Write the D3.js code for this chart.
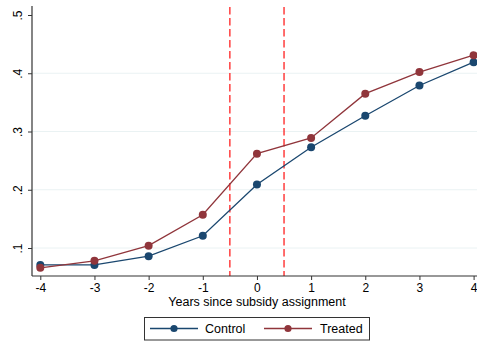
<!DOCTYPE html>
<html><head><meta charset="utf-8">
<script src="https://cdn.jsdelivr.net/npm/d3@7"></script>
<style>body{margin:0;background:#fff}svg{display:block}text{font-family:Arial,"Liberation Sans",sans-serif}</style>
</head><body><svg id="c" width="477" height="343"></svg>
<script>
const years = [-4,-3,-2,-1,0,1,2,3,4];
const control = [0.071,0.071,0.086,0.121,0.209,0.273,0.327,0.379,0.419];
const treated = [0.066,0.078,0.104,0.157,0.262,0.289,0.365,0.402,0.431];
const yTicks = [0.1,0.2,0.3,0.4,0.5];
const yTickLabels = [".1",".2",".3",".4",".5"];
const xTicks = [-4,-3,-2,-1,0,1,2,3,4];
const refLines = [-0.5,0.5];
const seriesNames = ["Control","Treated"];
const colors = ["#1a476f","#90353b"];

const svg = d3.select("#c");
const L=32, R=477, T=6, B=276;
const x = d3.scaleLinear().domain([-4,4]).range([40.3,473.6]);
const y = d3.scaleLinear().domain([0.1,0.5]).range([248,15]);

// gridlines
svg.append("g").selectAll("line").data(yTicks.filter(v=>v<0.5)).join("line")
  .attr("x1",L).attr("x2",R).attr("y1",d=>y(d)).attr("y2",d=>y(d))
  .attr("stroke","#eaf2f3").attr("stroke-width",1);

// reference lines
svg.append("g").selectAll("line").data(refLines).join("line")
  .attr("x1",d=>x(d)).attr("x2",d=>x(d)).attr("y1",T+1).attr("y2",B)
  .attr("stroke","#ff2020").attr("stroke-width",1.3).attr("stroke-dasharray","7.5,3.5");

// y axis
const ya = svg.append("g").attr("transform",`translate(${L},0)`)
  .call(d3.axisLeft(y).tickValues(yTicks).tickFormat((d,i)=>yTickLabels[i]).tickSize(4).tickSizeOuter(0));
ya.select(".domain").attr("d",`M0,${T}V${B}`).attr("stroke","#333").attr("stroke-width",1.2);
ya.selectAll(".tick line").attr("stroke","#333");
ya.selectAll(".tick text").attr("font-size",12).attr("fill","#000").attr("x",0).attr("dy",0)
  .attr("text-anchor","middle")
  .attr("transform","translate(-10,0) rotate(-90)")
  .attr("y",-0).attr("dy","0em");
ya.attr("font-family",null);

// x axis
const xa = svg.append("g").attr("transform",`translate(0,${B})`)
  .call(d3.axisBottom(x).tickValues(xTicks).tickFormat(d3.format("d")).tickSize(4).tickSizeOuter(0));
xa.select(".domain").attr("d",`M${L},0H${R}`).attr("stroke","#333").attr("stroke-width",1.2);
xa.selectAll(".tick line").attr("stroke","#333");
xa.selectAll(".tick text").attr("font-size",12).attr("fill","#000").attr("y",7);
xa.attr("font-family",null);
xa.selectAll(".tick text").text(d=> d<0 ? "-"+Math.abs(d) : d);

svg.append("text").attr("x",257).attr("y",306).attr("text-anchor","middle")
  .attr("font-size",12.5).attr("fill","#000").text("Years since subsidy assignment");

// series
const line = d3.line().x((d,i)=>x(years[i])).y(d=>y(d));
[control,treated].forEach((s,k)=>{
  svg.append("path").datum(s).attr("d",line).attr("fill","none")
    .attr("stroke",colors[k]).attr("stroke-width",1.3);
  svg.append("g").selectAll("circle").data(s).join("circle")
    .attr("cx",(d,i)=>x(years[i])).attr("cy",d=>y(d)).attr("r",4).attr("fill",colors[k]);
});

// legend
const lg = svg.append("g");
lg.append("rect").attr("x",144.5).attr("y",317.5).attr("width",225).attr("height",22.5)
  .attr("fill","#fff").attr("stroke","#333").attr("stroke-width",1);
const lx = [[150,198,205],[264,312,320]];
seriesNames.forEach((n,k)=>{
  lg.append("line").attr("x1",lx[k][0]).attr("x2",lx[k][1]).attr("y1",328.5).attr("y2",328.5)
    .attr("stroke",colors[k]).attr("stroke-width",1.3);
  lg.append("circle").attr("cx",(lx[k][0]+lx[k][1])/2).attr("cy",328.5).attr("r",3.6).attr("fill",colors[k]);
  lg.append("text").attr("x",lx[k][2]).attr("y",328.5).attr("dy","0.35em").attr("font-size",12.5)
    .attr("fill","#000").text(n);
});
</script></body></html>
